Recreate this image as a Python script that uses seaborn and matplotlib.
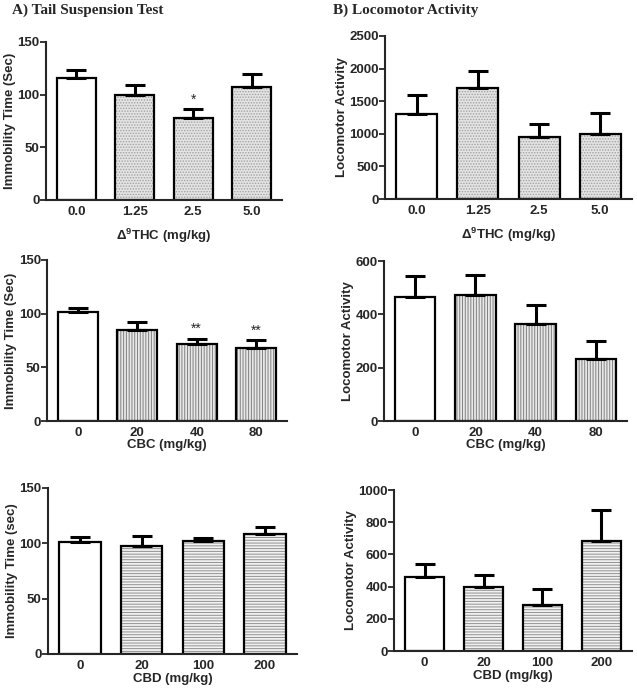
import matplotlib
matplotlib.use("Agg")
import matplotlib.pyplot as plt
import seaborn as sns
import numpy as np

# dose labels
thc_doses = ["0.0", "1.25", "2.5", "5.0"]
cbc_doses = ["0", "20", "40", "80"]
cbd_doses = ["0", "20", "100", "200"]

# tail suspension (immobility, sec): means and SEM
tst_thc_mean = [115.5, 100, 77.5, 107]
tst_thc_sem = [8, 9.5, 8.5, 12.5]
tst_cbc_mean = [101.3, 85, 71.4, 67.7]
tst_cbc_sem = [4.3, 7.2, 5.3, 7.5]
tst_cbd_mean = [101.2, 97.9, 101.7, 108.4]
tst_cbd_sem = [4.8, 8.7, 3.4, 6.4]

# locomotor activity: means and SEM
loc_thc_mean = [1297, 1704, 954, 990]
loc_thc_sem = [295, 260, 189, 322]
loc_cbc_mean = [465, 473, 363, 233]
loc_cbc_sem = [78, 76, 73, 68]
loc_cbd_mean = [462, 399, 287, 682]
loc_cbd_sem = [77, 72, 97, 194]

stars_tst_thc = ["", "", "*", ""]
stars_tst_cbc = ["", "", "**", "**"]

sns.set_style("ticks")
plt.rcParams["font.family"] = ["Liberation Sans", "DejaVu Sans"]
plt.rcParams["font.weight"] = "bold"
plt.rcParams["mathtext.fontset"] = "custom"
plt.rcParams["mathtext.bf"] = "Liberation Sans:bold"
plt.rcParams["mathtext.rm"] = "Liberation Sans:bold"
plt.rcParams["hatch.linewidth"] = 0.7

W, H = 637, 694
fig = plt.figure(figsize=(W / 100, H / 100), dpi=100)


def make_ax(left, right, top, bottom):
    return fig.add_axes([left / W, 1 - bottom / H, (right - left) / W, (bottom - top) / H])


def panel(ax, doses, means, sems, hatch, face, hcol, ymax, ystep, ylabel, xlabel, xpad, stars=None):
    cols = ["white"] + [face] * 3
    sns.barplot(x=doses, y=means, hue=doses, palette=cols, legend=False, width=0.67,
                ax=ax, edgecolor=hcol, linewidth=0, saturation=1)
    for i, p in enumerate(ax.patches):
        if i > 0:
            p.set_hatch(hatch)
    sns.barplot(x=doses, y=means, width=0.67, ax=ax, fill=False, color="black",
                edgecolor="black", linewidth=1.6)
    ax.errorbar(np.arange(4), means, yerr=[np.zeros(4), sems], fmt="none",
                ecolor="black", elinewidth=2.2, capsize=7, capthick=2.2)
    if stars:
        for i, s in enumerate(stars):
            if s:
                ax.text(i, means[i] + sems[i] + ymax * 0.015, s, ha="center", va="bottom",
                        fontsize=10, fontweight="normal")
    ax.set_xlim(-0.52, 3.52)
    ax.set_ylim(0, ymax)
    ax.set_yticks(np.arange(0, ymax + 1, ystep))
    ax.tick_params(axis="y", length=4, width=1.3, labelsize=9.5, pad=0.5)
    ax.tick_params(axis="x", length=0, labelsize=9.5, pad=4)
    sns.despine(ax=ax)
    for s in ["left", "bottom"]:
        ax.spines[s].set_linewidth(1.5)
    ax.set_ylabel(ylabel, fontsize=9.5, fontweight="bold", labelpad=1)
    ax.set_xlabel(xlabel, fontsize=9.5, fontweight="bold", labelpad=xpad)


thc_x = r"$\Delta^{9}$THC (mg/kg)"
dots = "......"
vert = "||||||"
horz = "------"

ax = make_ax(46, 282, 42, 200)
panel(ax, thc_doses, tst_thc_mean, tst_thc_sem, dots, "#e4e4e4", "#a0a0a0", 150, 50,
      "Immobility Time (Sec)", thc_x, 7, stars_tst_thc)
ax = make_ax(385, 632, 36, 199)
panel(ax, thc_doses, loc_thc_mean, loc_thc_sem, dots, "#e4e4e4", "#a0a0a0", 2500, 500,
      "Locomotor Activity", thc_x, 7)
ax = make_ax(47, 287, 260, 421)
panel(ax, cbc_doses, tst_cbc_mean, tst_cbc_sem, vert, "#e8e8e8", "#808080", 150, 50,
      "Immobility Time (Sec)", "CBC (mg/kg)", 0.5, stars_tst_cbc)
ax = make_ax(384, 627, 261, 421)
panel(ax, cbc_doses, loc_cbc_mean, loc_cbc_sem, vert, "#e8e8e8", "#808080", 600, 200,
      "Locomotor Activity", "CBC (mg/kg)", 0.5)
ax = make_ax(48, 297, 488, 654)
panel(ax, cbd_doses, tst_cbd_mean, tst_cbd_sem, horz, "#f2f2f2", "#909090", 150, 50,
      "Immobility Time (sec)", "CBD (mg/kg)", 1)
ax = make_ax(394, 632, 490, 651)
panel(ax, cbd_doses, loc_cbd_mean, loc_cbd_sem, horz, "#f2f2f2", "#909090", 1000, 200,
      "Locomotor Activity", "CBD (mg/kg)", 1)

fig.text(12 / W, 1 - 10 / H, "A) Tail Suspension Test", family="Liberation Serif",
         fontweight="bold", fontsize=11, va="center", ha="left")
fig.text(333 / W, 1 - 10 / H, "B) Locomotor Activity", family="Liberation Serif",
         fontweight="bold", fontsize=11, va="center", ha="left")

fig.savefig("out.png", dpi=100)
